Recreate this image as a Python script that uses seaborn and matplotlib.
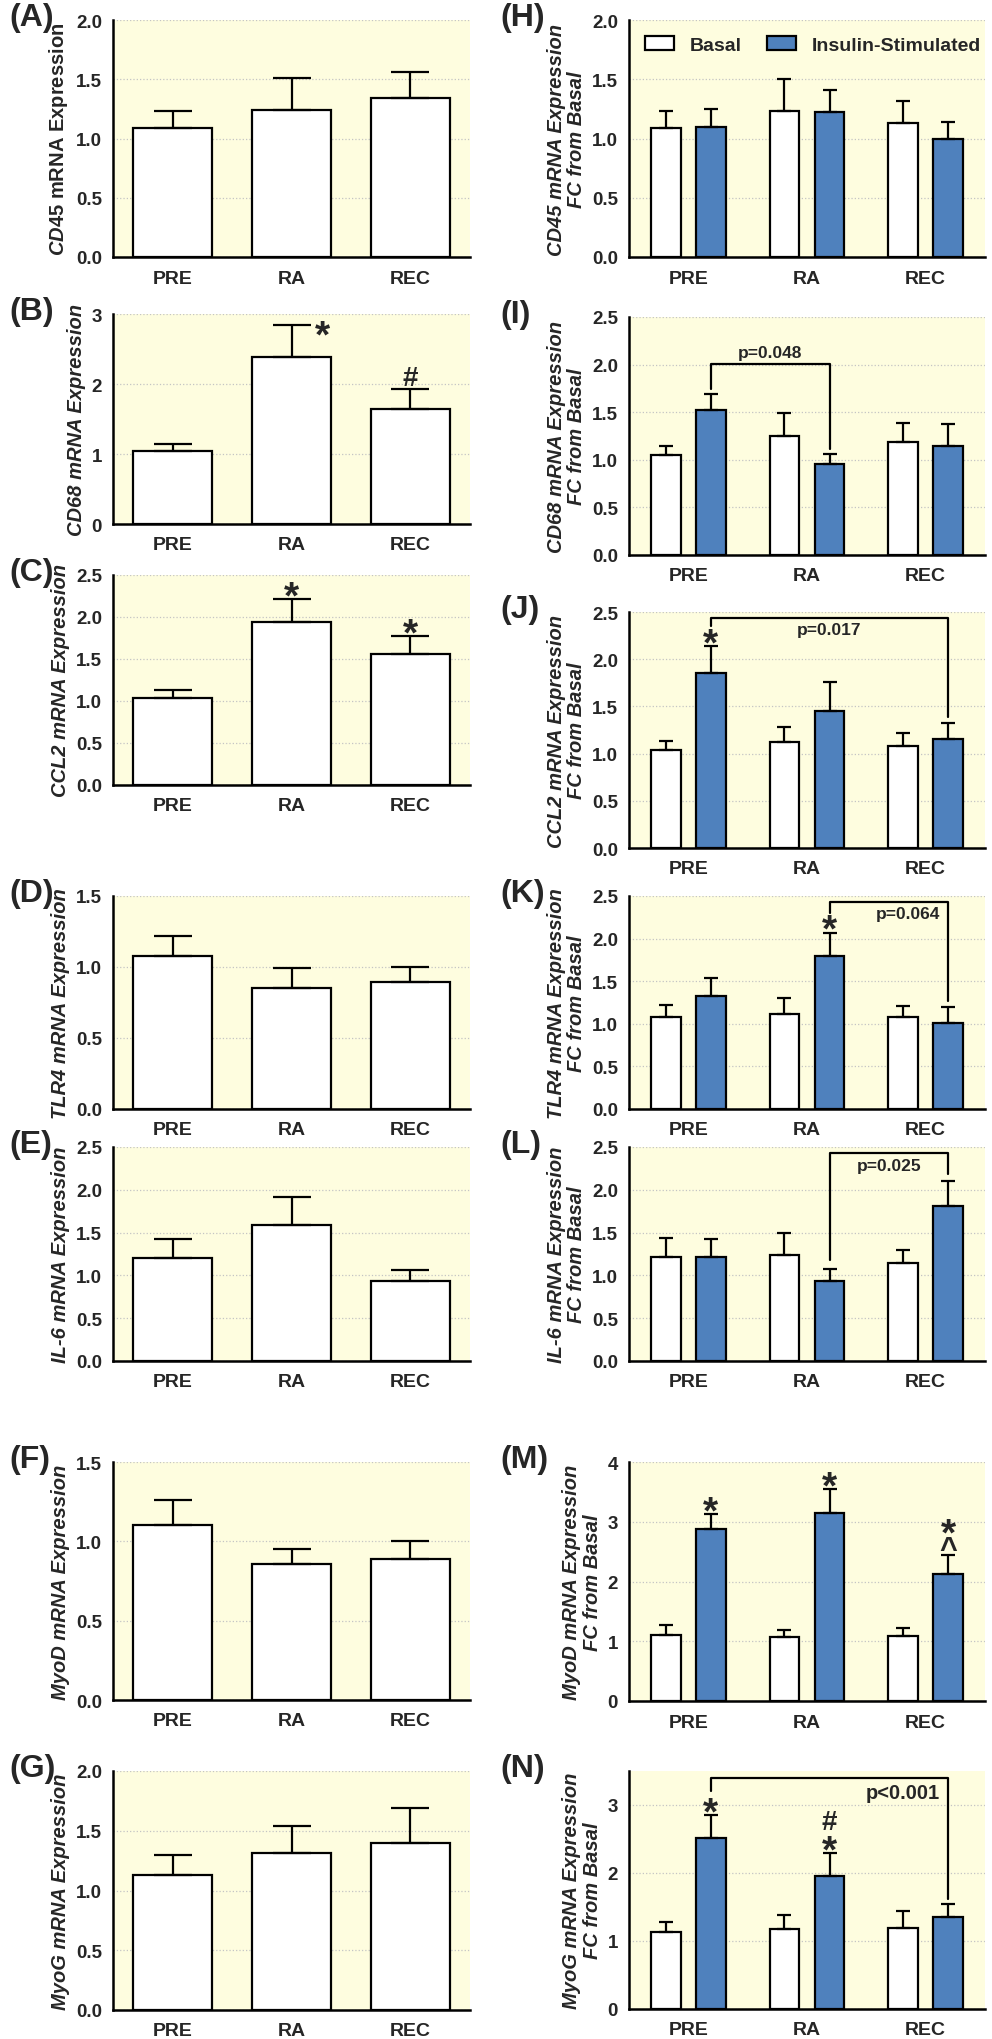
import numpy as np
import pandas as pd
import matplotlib
matplotlib.use('Agg')
import matplotlib.pyplot as plt
import matplotlib.patches as mpatches
from matplotlib.ticker import MultipleLocator, FormatStrFormatter
from matplotlib.textpath import TextPath
from matplotlib.font_manager import FontProperties
import seaborn as sns

sns.set_style('white')
plt.rcParams['font.family'] = ['Liberation Sans', 'DejaVu Sans']
plt.rcParams['font.weight'] = 'bold'
plt.rcParams['mathtext.fontset'] = 'custom'
plt.rcParams['mathtext.it'] = 'Liberation Sans:italic:bold'
plt.rcParams['mathtext.rm'] = 'Liberation Sans:bold'

times = ['PRE', 'RA', 'REC']
groups = ['Basal', 'Insulin-Stimulated']
colors = ['white', '#4F81BD']
bg = '#FEFDDF'

# left column (A-G): mRNA expression
left_letters = ['A', 'B', 'C', 'D', 'E', 'F', 'G']
left_labels = [r'$\mathit{CD45}$ mRNA Expression', 'CD68 mRNA Expression', 'CCL2 mRNA Expression',
               'TLR4 mRNA Expression', 'IL-6 mRNA Expression', 'MyoD mRNA Expression',
               'MyoG mRNA Expression']
left_mean = [[1.09, 1.24, 1.34], [1.04, 2.38, 1.64], [1.04, 1.94, 1.565], [1.08, 0.855, 0.895],
             [1.20, 1.59, 0.93], [1.10, 0.855, 0.89], [1.13, 1.31, 1.395]]
left_sem = [[0.14, 0.27, 0.22], [0.11, 0.47, 0.29], [0.09, 0.27, 0.205], [0.14, 0.135, 0.105],
            [0.23, 0.33, 0.13], [0.16, 0.095, 0.11], [0.165, 0.23, 0.295]]
left_ymax = [2, 3, 2.5, 1.5, 2.5, 1.5, 2]
left_ystep = [0.5, 1, 0.5, 0.5, 0.5, 0.5, 0.5]
left_marks = {'B': [(1, '*'), (2, '#')], 'C': [(1, '*'), (2, '*')]}

# right column (H-N): fold change from basal
right_letters = ['H', 'I', 'J', 'K', 'L', 'M', 'N']
right_genes = ['CD45', 'CD68', 'CCL2', 'TLR4', 'IL-6', 'MyoD', 'MyoG']
basal_mean = [[1.09, 1.23, 1.13], [1.05, 1.25, 1.19], [1.04, 1.12, 1.08], [1.075, 1.12, 1.075],
              [1.21, 1.24, 1.14], [1.105, 1.07, 1.08], [1.13, 1.17, 1.19]]
basal_sem = [[0.14, 0.27, 0.19], [0.10, 0.24, 0.20], [0.09, 0.16, 0.14], [0.14, 0.18, 0.13],
             [0.225, 0.26, 0.16], [0.16, 0.125, 0.14], [0.155, 0.21, 0.25]]
insulin_mean = [[1.10, 1.22, 0.995], [1.52, 0.96, 1.145], [1.85, 1.45, 1.15], [1.325, 1.80, 1.01],
                [1.21, 0.935, 1.81], [2.88, 3.15, 2.12], [2.515, 1.955, 1.35]]
insulin_sem = [[0.145, 0.19, 0.145], [0.17, 0.10, 0.23], [0.285, 0.31, 0.17], [0.21, 0.27, 0.185],
               [0.215, 0.135, 0.295], [0.25, 0.40, 0.325], [0.335, 0.34, 0.20]]
right_ymax = [2, 2.5, 2.5, 2.5, 2.5, 4, 3.5]
right_ystep = [0.5, 0.5, 0.5, 0.5, 0.5, 1, 1]
right_marks = {'J': [(0, '*')], 'K': [(1, '*')], 'M': [(0, '*'), (1, '*'), (2, '^*')],
               'N': [(0, '*'), (1, '*#')]}
# panel, from bar, to bar, left leg start, bracket height, right leg end, text, text place
brackets = [('I', 0, 1, 1.74, 2.005, 1.11, 'p=0.048', 'above'),
            ('J', 0, 2, 2.35, 2.433, 1.384, 'p=0.017', 'below'),
            ('K', 1, 2, 2.30, 2.43, 1.27, 'p=0.064', 'right'),
            ('L', 1, 2, 1.18, 2.426, 2.19, 'p=0.025', 'below'),
            ('N', 0, 2, 3.21, 3.39, 1.62, 'p<0.001', 'right')]

# axes boxes in pixels (top, bottom)
left_rows = [(21, 258), (315, 525), (576, 786), (897, 1110), (1148, 1362), (1463, 1701), (1772, 2011)]
right_rows = [(21, 258), (318, 556), (613, 849), (897, 1110), (1148, 1362), (1463, 1702), (1772, 2010)]

W, H = 992, 2040
fig = plt.figure(figsize=(W / 100, H / 100), dpi=100)

# marker font sizes; ink extents measured from the font itself
mark_size = {'*': 28, '#': 20, '^': 22}
mark_fp = FontProperties(family='Liberation Sans', weight='bold')


def ink(sym):
    ext = TextPath((0, 0), sym, size=1, prop=mark_fp).get_extents()
    return ext.y0, ext.y1


def make_ax(x0, x1, y0, y1):
    return fig.add_axes([x0 / W, 1 - y1 / H, (x1 - x0) / W, (y1 - y0) / H])


def style(ax, ymax, step):
    ax.set_facecolor(bg)
    ax.set_xlim(-0.5, 2.5)
    ax.set_ylim(0, ymax)
    ax.yaxis.set_major_locator(MultipleLocator(step))
    ax.yaxis.set_major_formatter(FormatStrFormatter('%.1f' if step < 1 else '%d'))
    ax.grid(axis='y', ls=':', color='#c4c4c4', lw=0.9)
    ax.grid(axis='x', visible=False)
    ax.set_axisbelow(True)
    for s in ['top', 'right']:
        ax.spines[s].set_visible(False)
    for s in ['left', 'bottom']:
        ax.spines[s].set_linewidth(1.8)
        ax.spines[s].set_color('black')
    ax.tick_params(axis='y', direction='out', length=5, width=1.6, labelsize=13.5, color='black', pad=3)
    ax.tick_params(axis='x', direction='out', length=5, width=1.6, labelsize=14, color='black', pad=4)
    ax.set_xlabel('')


def add_err(ax, cont, sem, capsize):
    for bar, e in zip(cont, sem):
        x = bar.get_x() + bar.get_width() / 2
        y = bar.get_height()
        ax.errorbar(x, y, yerr=[[0], [e]], fmt='none', ecolor='black', elinewidth=1.6,
                    capsize=capsize, capthick=1.6, zorder=3)


def add_marks(ax, x, top, syms, dx=0, center=False):
    cursor = 3
    for s in syms:
        size = mark_size[s]
        b, t = ink(s)
        if center:
            base = -2 - (b + t) / 2 * size
        else:
            base = cursor - b * size
        ax.annotate(s, xy=(x, top), xytext=(dx, base), textcoords='offset points', ha='center',
                    va='baseline', fontsize=size, fontweight='bold', annotation_clip=False)
        cursor = base + t * size + 4


# left column
for i in range(7):
    ax = make_ax(113, 470, *left_rows[i])
    sns.barplot(x=times, y=left_mean[i], color='white', saturation=1, width=0.66,
                edgecolor='black', linewidth=1.6, errorbar=None, ax=ax)
    style(ax, left_ymax[i], left_ystep[i])
    add_err(ax, ax.containers[0], left_sem[i], 13.5)
    ax.set_ylabel(left_labels[i], fontsize=14.5, fontstyle='italic' if i > 0 else 'normal',
                  fontweight='bold', labelpad=4)
    letter = left_letters[i]
    for k, s in left_marks.get(letter, []):
        top = left_mean[i][k] + left_sem[i][k]
        if letter == 'B' and k == 1:
            add_marks(ax, k, top, s, dx=22, center=True)
        else:
            add_marks(ax, k, top, s)
    fig.text(9 / W, 1 - (left_rows[i][0] - 3) / H, '(' + letter + ')', fontsize=23,
             fontweight='bold', ha='left', va='center')

# right column
for i in range(7):
    ax = make_ax(629, 985, *right_rows[i])
    df = pd.DataFrame({'time': times * 2, 'group': [groups[0]] * 3 + [groups[1]] * 3,
                       'value': basal_mean[i] + insulin_mean[i]})
    sns.barplot(data=df, x='time', y='value', hue='group', hue_order=groups, palette=colors,
                saturation=1, width=0.76, gap=0.34, edgecolor='black', linewidth=1.6,
                errorbar=None, legend=False, ax=ax)
    style(ax, right_ymax[i], right_ystep[i])
    add_err(ax, ax.containers[0], basal_sem[i], 5)
    add_err(ax, ax.containers[1], insulin_sem[i], 5)
    ax.set_ylabel(right_genes[i] + ' mRNA Expression\nFC from Basal', fontsize=14.5,
                  fontstyle='italic', fontweight='bold', labelpad=4, linespacing=1.1)
    letter = right_letters[i]
    ins = ax.containers[1]
    xs = [b.get_x() + b.get_width() / 2 for b in ins]
    for k, s in right_marks.get(letter, []):
        add_marks(ax, xs[k], insulin_mean[i][k] + insulin_sem[i][k], s)
    for p, a, b, y0, yh, y1, txt, place in brackets:
        if p != letter:
            continue
        ax.plot([xs[a], xs[a], xs[b], xs[b]], [y0, yh, yh, y1], color='black', lw=1.6,
                clip_on=False, zorder=4)
        fs = 14.5 if txt.startswith('p<') else 12.5
        if place == 'above':
            ax.annotate(txt, xy=((xs[a] + xs[b]) / 2, yh), xytext=(0, 3), textcoords='offset points',
                        ha='center', va='bottom', fontsize=fs, fontweight='bold')
        elif place == 'below':
            ax.annotate(txt, xy=((xs[a] + xs[b]) / 2, yh), xytext=(0, -3), textcoords='offset points',
                        ha='center', va='top', fontsize=fs, fontweight='bold')
        else:
            ax.annotate(txt, xy=(xs[b], yh), xytext=(-6, -3), textcoords='offset points',
                        ha='right', va='top', fontsize=fs, fontweight='bold')
    if letter == 'H':
        handles = [mpatches.Patch(facecolor=c, edgecolor='black', lw=1.6) for c in colors]
        ax.legend(handles, groups, loc='upper left', ncol=2, frameon=False, fontsize=14,
                  handlelength=1.5, handleheight=0.8, handletextpad=0.8, columnspacing=1.3,
                  borderaxespad=0.4)
    fig.text(500 / W, 1 - (right_rows[i][0] - 3) / H, '(' + letter + ')', fontsize=23,
             fontweight='bold', ha='left', va='center')

fig.savefig('out.png', dpi=100, facecolor='white')
